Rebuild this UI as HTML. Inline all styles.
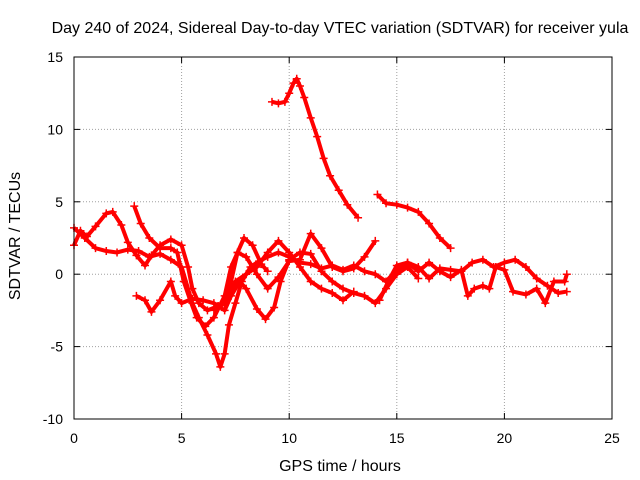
<!DOCTYPE html>
<html><head><meta charset="utf-8"><style>
body{margin:0;background:#fff}
svg{display:block;font-family:"Liberation Sans",sans-serif}
</style></head><body>
<svg id="chart" width="640" height="480" xmlns="http://www.w3.org/2000/svg">
<rect width="640" height="480" fill="#fff"/>
<text x="340" y="33" font-size="16" text-anchor="middle">Day 240 of 2024, Sidereal Day-to-day VTEC variation (SDTVAR) for receiver yula</text>
<g id="grid"></g>
<g id="axes"></g>
<g id="series"></g>
<rect x="74" y="57" width="538" height="362" fill="none" stroke="#000" stroke-width="1"/>
<text x="340" y="471" font-size="16" text-anchor="middle">GPS time / hours</text>
<text transform="translate(20,236) rotate(-90)" font-size="16" text-anchor="middle">SDTVAR / TECUs</text>
</svg>
<script>
const xTicks=[0,5,10,15,20,25];
const yTicks=[-10,-5,0,5,10,15];
const s1=[[9.2,11.9],[9.5,11.8],[9.8,11.9],[10.0,12.5],[10.2,13.2],[10.35,13.5],[10.5,13],[10.7,12.2],[11.0,10.8],[11.3,9.5],[11.6,8],[11.9,6.8],[12.3,5.8],[12.7,4.8],[13.2,3.9]];
const s2=[[14.1,5.5],[14.5,4.9],[15,4.8],[15.5,4.6],[16,4.3],[16.5,3.5],[17,2.5],[17.5,1.8]];
const s3=[[0,2],[0.3,3],[0.6,2.6],[1,3.3],[1.5,4.2],[1.8,4.3],[2.2,3.4],[2.5,2.2],[2.9,1.3],[3.3,0.6],[3.6,1.3],[4.0,2.0],[4.5,2.4],[5,2],[5.3,0.5],[5.5,-1],[5.8,-2],[6.2,-2.5],[6.7,-2.2],[7,-2],[7.3,-0.5],[7.6,1.5],[7.9,2.5],[8.3,2],[8.7,0.7],[9,0.2]];
const s4=[[0,3.2],[0.5,2.5],[1,1.8],[1.5,1.6],[2,1.5],[2.5,1.7],[3,1.6],[3.5,1.2],[4,1.4],[4.5,1.0],[5,0.5],[5.5,-2],[5.8,-3],[6.2,-4.2],[6.6,-5.5],[6.8,-6.4],[7.0,-5.5],[7.2,-3.5],[7.5,-2],[7.8,-0.5],[8.2,0.5],[8.6,0.9],[9,1.2],[9.5,1.5],[10,1.2],[10.5,0.8],[11,0.7],[11.5,0.4],[12,0.6],[12.5,0.3],[13,0.6],[13.5,0.2],[14,0.0],[14.5,-0.5],[15,0.3],[15.5,0.8],[16,0.5],[16.5,-0.3],[17,0.4],[17.5,0.3],[18,0.2],[18.5,0.8],[19,1.0],[19.5,0.5],[20,0.8],[20.5,1.0],[21,0.5],[21.5,-0.3],[22,-0.8],[22.5,-1.3],[22.9,-1.2]];
const s5=[[2.8,4.7],[3.1,3.5],[3.5,2.5],[4,1.8],[4.5,1.8],[4.8,1.5],[5.1,-0.5],[5.4,-1.8],[5.7,-3],[6.1,-3.6],[6.5,-3],[7,-1.5],[7.3,0.5],[7.6,1.5],[8,1.2],[8.5,0],[9,-1],[9.5,-0.2],[10,0.9],[10.5,1.0],[11,2.8],[11.5,1.8],[12,0.5],[12.5,0.2],[13,0.4],[13.5,1.2],[14,2.3]];
const s6=[[2.9,-1.5],[3.3,-1.8],[3.6,-2.6],[4,-1.8],[4.5,-0.5],[4.7,-1.5],[5,-2],[5.5,-1.7],[6,-1.8],[6.5,-2],[7,-2.5],[7.3,-1.5],[7.7,-0.5],[8,-1.0],[8.5,-2.4],[8.9,-3.1],[9.3,-2.3],[9.6,-0.5],[10,1.0],[10.5,1.5],[11,1.4],[11.5,0.2],[12,-0.5],[12.5,-1],[13,-1.3],[13.5,-1.5],[14,-2],[14.5,-1],[15,0],[15.5,0.5],[16,-0.3]];
const s7=[[6.5,-2.5],[7,-2],[7.5,-0.5],[8,0],[8.5,0.5],[9,1.5],[9.5,2.3],[10,1.5],[10.5,0.5],[11,-0.5],[11.5,-1],[12,-1.3],[12.5,-1.8],[13,-1.2]];
const s8=[[14.2,-1.8],[14.6,-0.5],[15,0.6],[15.5,0.8],[16,0.2],[16.5,0.8],[17,0.2],[17.5,-0.2],[18,0.3],[18.3,-1.5],[18.6,-1],[19,-0.8],[19.3,-1],[19.6,0.5],[20,0.3],[20.4,-1.2],[21,-1.4],[21.5,-1.0],[21.9,-2.0],[22.3,-0.5],[22.8,-0.5],[22.9,0]];
const allSeries=[s1,s2,s3,s4,s5,s6,s7,s8];

const NS="http://www.w3.org/2000/svg";
const X0=74,X1=612,Y0=419,Y1=57;
function xs(v){return X0+(v-0)/(25-0)*(X1-X0);}
function ys(v){return Y0-(v+10)/(25)*(Y0-Y1);}
function mk(tag,attrs,parent){const e=document.createElementNS(NS,tag);for(const k in attrs)e.setAttribute(k,attrs[k]);parent.appendChild(e);return e;}
const grid=document.getElementById('grid'),axes=document.getElementById('axes'),ser=document.getElementById('series');
xTicks.forEach(t=>{
  const x=xs(t);
  if(t>0&&t<25){const g=mk('line',{x1:x,x2:x,y1:Y1,y2:Y0,stroke:'#a0a0a0','stroke-dasharray':'1,2'},grid);
  
  }
  const l=mk('line',{x1:x,x2:x,y1:Y0,y2:Y0-6,stroke:'#000'},axes);
  
  
  const l2=mk('line',{x1:x,x2:x,y1:Y1,y2:Y1+6,stroke:'#000'},axes);
  
  
  const tx=mk('text',{x:x,y:443,'font-size':14,'text-anchor':'middle'},axes);tx.textContent=t;
  
  
});
yTicks.forEach(t=>{
  const y=ys(t);
  if(t>-10&&t<15){const g=mk('line',{x1:X0,x2:X1,y1:y,y2:y,stroke:'#a0a0a0','stroke-dasharray':'1,2'},grid);
  
  }
  const l=mk('line',{x1:X0,x2:X0+6,y1:y,y2:y,stroke:'#000'},axes);
  
  
  const l2=mk('line',{x1:X1,x2:X1-6,y1:y,y2:y,stroke:'#000'},axes);
  
  
  const tx=mk('text',{x:63,y:y+5,'font-size':14,'text-anchor':'end'},axes);tx.textContent=t;
  
  
});
allSeries.forEach((s,i)=>{
  const g=mk('g',{},ser);
  
  
  const pl=mk('polyline',{points:s.map(p=>xs(p[0])+','+ys(p[1])).join(' '),fill:'none',stroke:'#f00','stroke-width':4,'stroke-linejoin':'round'},g);
  
  
  s.forEach(p=>{
    const x=xs(p[0]),y=ys(p[1]);
    const m=mk('path',{d:`M${x-4},${y}H${x+4}M${x},${y-4}V${y+4}`,stroke:'#f00','stroke-width':1.5},g);
    
    
  });
});
</script>
</body></html>
